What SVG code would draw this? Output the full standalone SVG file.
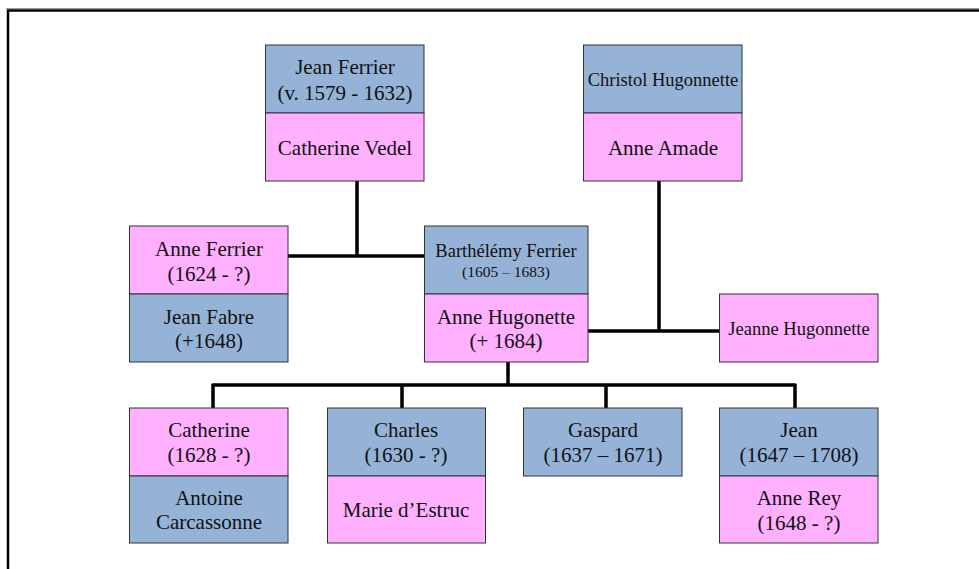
<svg xmlns="http://www.w3.org/2000/svg" width="979" height="569" viewBox="0 0 979 569">
<style>
.m{fill:#95b3d7;stroke:#333;stroke-width:1}
.f{fill:#ffb0ff;stroke:#333;stroke-width:1}
text{font-family:"Liberation Serif","Times New Roman",serif;fill:#111;text-anchor:middle;font-size:21px}
.s{font-size:18.5px}
.xs{font-size:15.5px}
.c{fill:none;stroke:#000;stroke-width:3.5}
</style>
<rect width="979" height="569" fill="#fff"/>
<g id="frame">
<line x1="6" y1="8.5" x2="979" y2="8.5" stroke="#999" stroke-width="1"/>
<path d="M8 569 V10.5 H979" fill="none" stroke="#000" stroke-width="2.5"/>
</g>
<g id="connectors">
<path class="c" d="M357 181 V256 M288 256 H424"/>
<path class="c" d="M659 181 V331 M588 331 H719"/>
<path class="c" d="M508 362 V385 M213 385 H795 M213 383.5 V408 M402 383.5 V408 M606 383.5 V408 M795 383.5 V408"/>
</g>
<g id="jean-ferrier">
<rect class="m" x="265.5" y="45" width="158.5" height="68"/>
<rect class="f" x="265.5" y="113" width="158.5" height="68"/>
<text x="345" y="74">Jean Ferrier</text>
<text x="345" y="100">(v. 1579 - 1632)</text>
<text x="345" y="155">Catherine Vedel</text>
</g>
<g id="christol-hugonnette">
<rect class="m" x="583.5" y="45" width="158.5" height="68"/>
<rect class="f" x="583.5" y="113" width="158.5" height="68"/>
<text class="s" x="663" y="86">Christol Hugonnette</text>
<text x="663" y="155">Anne Amade</text>
</g>
<g id="anne-ferrier">
<rect class="f" x="129.5" y="226" width="158.5" height="68"/>
<rect class="m" x="129.5" y="294" width="158.5" height="68"/>
<text x="209" y="256">Anne Ferrier</text>
<text x="209" y="281">(1624 - ?)</text>
<text x="209" y="324">Jean Fabre</text>
<text x="209" y="348">(+1648)</text>
</g>
<g id="barthelemy-ferrier">
<rect class="m" x="424.5" y="226" width="163.5" height="68"/>
<rect class="f" x="424.5" y="294" width="163.5" height="68"/>
<text class="s" x="506" y="257">Barthélémy Ferrier</text>
<text class="xs" x="506" y="277">(1605 – 1683)</text>
<text x="506" y="324">Anne Hugonette</text>
<text x="506" y="348">(+ 1684)</text>
</g>
<g id="jeanne-hugonnette">
<rect class="f" x="719.5" y="294" width="158.5" height="68"/>
<text class="s" x="799" y="335">Jeanne Hugonnette</text>
</g>
<g id="catherine">
<rect class="f" x="129.5" y="408" width="158.5" height="68"/>
<rect class="m" x="129.5" y="476" width="158.5" height="67"/>
<text x="209" y="437">Catherine</text>
<text x="209" y="462">(1628 - ?)</text>
<text x="209" y="505">Antoine</text>
<text x="209" y="529">Carcassonne</text>
</g>
<g id="charles">
<rect class="m" x="327.5" y="408" width="158" height="68"/>
<rect class="f" x="327.5" y="476" width="158" height="67"/>
<text x="406" y="437">Charles</text>
<text x="406" y="462">(1630 - ?)</text>
<text x="406" y="517">Marie d’Estruc</text>
</g>
<g id="gaspard">
<rect class="m" x="523.5" y="408" width="158.5" height="68"/>
<text x="603" y="437">Gaspard</text>
<text x="603" y="462">(1637 – 1671)</text>
</g>
<g id="jean">
<rect class="m" x="719.5" y="408" width="158.5" height="68"/>
<rect class="f" x="719.5" y="476" width="158.5" height="67"/>
<text x="799" y="437">Jean</text>
<text x="799" y="462">(1647 – 1708)</text>
<text x="799" y="505">Anne Rey</text>
<text x="799" y="530">(1648 - ?)</text>
</g>
</svg>
